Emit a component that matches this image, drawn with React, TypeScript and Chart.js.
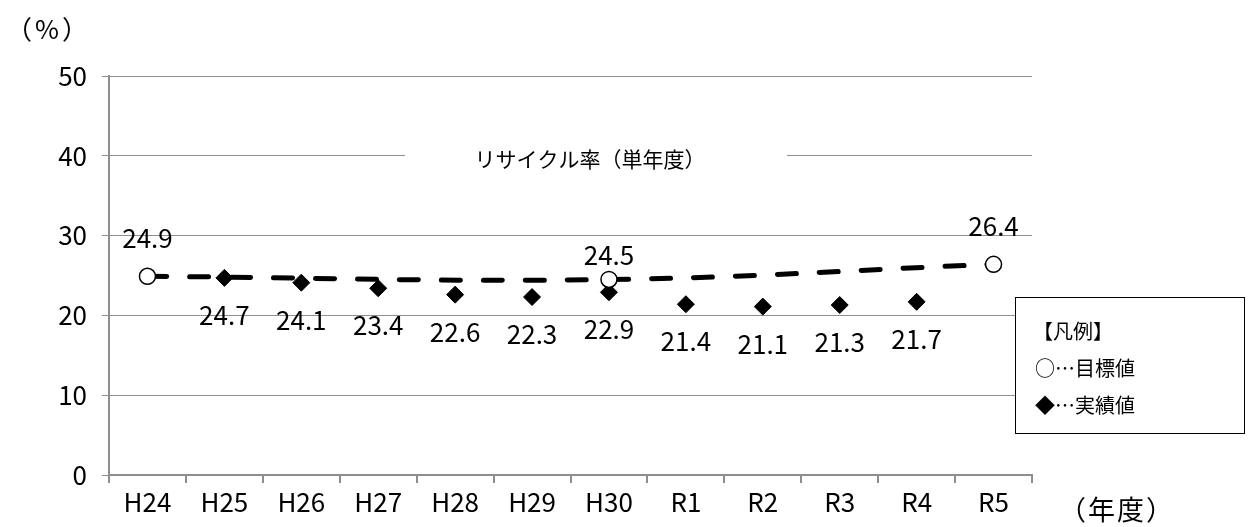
import React, { useEffect, useRef } from 'react';
import { Chart, registerables } from 'chart.js';

Chart.register(...registerables);

const categories = ['H24', 'H25', 'H26', 'H27', 'H28', 'H29', 'H30', 'R1', 'R2', 'R3', 'R4', 'R5'];
const targetValues: (number | null)[] = [24.9, null, null, null, null, null, 24.5, null, null, null, null, 26.4];
const actualValues: (number | null)[] = [null, 24.7, 24.1, 23.4, 22.6, 22.3, 22.9, 21.4, 21.1, 21.3, 21.7, null];
const yMin = 0;
const yMax = 50;
const yStep = 10;
const chartTitle = 'リサイクル率（単年度）';
const legendTitle = '【凡例】';
const legendTarget = '○…目標値';
const legendActual = '◆…実績値';
const yUnit = '（%）';
const xUnit = '（年度）';

const JP = '"Noto Sans CJK JP", "Noto Sans", sans-serif';
const GRID = '#8e8e8e';

const overlayPlugin = {
  id: 'overlay',
  afterDatasetsDraw(chart: any) {
    const ctx = chart.ctx as CanvasRenderingContext2D;
    ctx.save();
    ctx.fillStyle = '#000';
    ctx.font = `26px ${JP}`;
    ctx.textAlign = 'center';
    ctx.textBaseline = 'alphabetic';
    const tMeta = chart.getDatasetMeta(0);
    tMeta.data.forEach((pt: any, i: number) => {
      const v = targetValues[i];
      if (v == null) return;
      const off = i === 6 ? 14 : 28;
      ctx.fillText(v.toFixed(1), pt.x, pt.y - off);
    });
    const aMeta = chart.getDatasetMeta(1);
    aMeta.data.forEach((pt: any, i: number) => {
      const v = actualValues[i];
      if (v == null) return;
      ctx.fillText(v.toFixed(1), pt.x, pt.y + 47);
    });

    // title inside plot, interrupting the gridline
    ctx.fillStyle = '#fff';
    ctx.fillRect(405, 145, 382, 24);
    ctx.fillStyle = '#000';
    ctx.font = `21px ${JP}`;
    ctx.textBaseline = 'middle';
    ctx.fillText(chartTitle, 590, 159);

    // unit labels
    ctx.font = `26px ${JP}`;
    (ctx as any).letterSpacing = '3px';
    ctx.textAlign = 'left';
    ctx.fillText(yUnit, 6, 29);
    (ctx as any).letterSpacing = '2px';
    ctx.font = `27px ${JP}`;
    ctx.textAlign = 'center';
    ctx.fillText(xUnit, 1117, 510);
    (ctx as any).letterSpacing = '0px';

    // legend box
    ctx.fillStyle = '#fff';
    ctx.fillRect(1015, 297, 229, 136);
    ctx.strokeStyle = '#000';
    ctx.lineWidth = 1;
    ctx.strokeRect(1015.5, 297.5, 229, 136);
    ctx.fillStyle = '#000';
    ctx.font = `20px ${JP}`;
    ctx.textAlign = 'left';
    ctx.textBaseline = 'middle';
    ctx.fillText(legendTitle, 1033, 331);
    ctx.fillText(legendTarget, 1035, 368);
    ctx.fillText(legendActual, 1035, 405);
    ctx.restore();
  },
};

export default function App() {
  const ref = useRef<HTMLCanvasElement | null>(null);
  useEffect(() => {
    if (!ref.current) return;
    const chart = new Chart(ref.current, {
      type: 'line',
      data: {
        labels: categories,
        datasets: [
          {
            label: '目標値',
            data: targetValues,
            order: 0,
            borderColor: '#000',
            borderWidth: 5,
            borderDash: [19, 23],
            borderCapStyle: 'round',
            tension: 0.4,
            spanGaps: true,
            pointStyle: 'circle',
            pointRadius: 8,
            pointBackgroundColor: '#fff',
            pointBorderColor: '#000',
            pointBorderWidth: 1.5,
            fill: false,
          },
          {
            label: '実績値',
            data: actualValues,
            order: 1,
            showLine: false,
            pointStyle: 'rectRot',
            pointRadius: 8.5,
            pointBackgroundColor: '#000',
            pointBorderColor: '#000',
            pointBorderWidth: 1,
          },
        ],
      } as any,
      options: {
        responsive: false,
        animation: false,
        devicePixelRatio: 1,
        layout: { padding: { top: 76, left: 0, right: 218, bottom: 0 } },
        plugins: {
          legend: { display: false },
          tooltip: { enabled: false },
          title: { display: false },
        },
        scales: {
          x: {
            type: 'category',
            offset: true,
            grid: {
              offset: true,
              drawOnChartArea: false,
              drawTicks: true,
              tickLength: 8,
              color: GRID,
              lineWidth: 2,
            },
            border: { color: GRID, width: 2 },
            ticks: {
              color: '#000',
              font: { family: JP, size: 26 },
              padding: 4,
              maxRotation: 0,
              autoSkip: false,
            },
            afterFit: (s: any) => {
              s.height = 52;
            },
          },
          y: {
            min: yMin,
            max: yMax,
            grid: {
              color: GRID,
              lineWidth: 1,
              drawTicks: true,
              tickLength: 7,
            },
            border: { color: GRID, width: 2 },
            ticks: {
              stepSize: yStep,
              color: '#000',
              font: { family: JP, size: 26 },
              padding: 15,
            },
            afterFit: (s: any) => {
              s.width = 109;
            },
          },
        },
      } as any,
      plugins: [overlayPlugin],
    });
    return () => chart.destroy();
  }, []);
  return (
    <div style={{ position: 'fixed', left: 0, top: 0, width: 1250, height: 527, background: '#fff' }}>
      <canvas ref={ref} width={1250} height={527} style={{ display: 'block' }} />
    </div>
  );
}
